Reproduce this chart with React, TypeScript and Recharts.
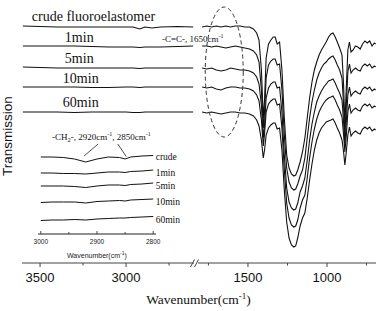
import { LineChart, Line, XAxis, YAxis, ReferenceDot, ReferenceLine } from "recharts"

const SERIF = "'Liberation Serif', 'Times New Roman', serif"
const SANS = "'Liberation Sans', Arial, sans-serif"

// transmission in arbitrary units (spectra offset for clarity)
// left part of the broken axis
const wnLeft = [3600, 3500, 3400, 3300, 3200, 3100, 3000, 2960, 2920, 2890, 2850, 2800, 2700, 2610]
const crudeLeft = [237, 236.5, 236, 236, 236, 236, 236, 236, 234, 236, 235, 236, 236.5, 236]
const min1Left = [217, 217, 217, 217, 216.5, 216, 216, 216, 215.5, 216, 216, 216, 216.5, 217]
const min5Left = [196, 195.5, 195, 195, 195, 195, 195, 195, 194.5, 195, 195, 195, 195, 195]
const min10Left = [176, 176, 176, 176, 175.5, 175.5, 176, 176, 175.5, 176, 176, 176, 176, 176]
const min60Left = [151, 151, 151, 150.5, 151, 151, 151, 150.5, 150.5, 151, 151, 151, 151, 151]

// right part of the broken axis
const wnRight = [
  1790, 1760, 1730, 1700, 1670, 1640, 1610, 1580, 1550, 1520,
  1490, 1465, 1445, 1430, 1415, 1403, 1395, 1385, 1370, 1355,
  1340, 1328, 1315, 1300, 1285, 1270, 1255, 1240, 1225, 1210,
  1198, 1185, 1170, 1155, 1140, 1125, 1110, 1095, 1080, 1065,
  1050, 1035, 1020, 1005, 990, 975, 962, 948, 935, 920,
  905, 895, 887, 878, 868, 858, 848, 835, 820, 805,
  790, 775, 760, 745, 730, 715, 700, 692,
]
const crudeRight = [
  236, 237, 236, 237, 236, 237, 236, 237, 237, 236,
  236, 234, 230, 223, 193, 145, 163, 205, 219, 223,
  226, 226, 219, 221, 193, 145, 108, 95, 89, 87,
  88, 93, 101, 111, 125, 145, 165, 181, 193, 201,
  208, 213, 217, 221, 226, 229, 230, 226, 221, 215,
  208, 178, 138, 175, 213, 221, 211, 213, 217, 216,
  214, 219, 222, 220, 222, 217, 220, 219,
]
const min1Right = [
  217, 217, 216, 217, 216, 215, 216, 217, 216, 215,
  214, 212, 208, 201, 173, 135, 151, 185, 198, 202,
  204, 204, 198, 199, 173, 128, 95, 81, 75, 73,
  74, 79, 87, 93, 105, 125, 145, 161, 173, 183,
  190, 195, 199, 201, 204, 206, 207, 203, 198, 193,
  185, 158, 128, 158, 191, 199, 190, 193, 195, 193,
  192, 197, 199, 197, 199, 195, 197, 196,
]
const min5Right = [
  195, 194, 195, 193, 192, 193, 195, 194, 193, 193,
  192, 190, 186, 179, 158, 125, 138, 165, 175, 179,
  181, 181, 175, 176, 151, 108, 75, 61, 55, 53,
  54, 60, 71, 77, 85, 103, 123, 139, 151, 161,
  167, 172, 176, 179, 182, 183, 184, 180, 175, 170,
  163, 141, 118, 141, 168, 176, 167, 170, 172, 170,
  169, 174, 176, 174, 176, 172, 174, 173,
]
const min10Right = [
  176, 175, 176, 174, 173, 175, 176, 176, 175, 175,
  174, 172, 168, 162, 143, 117, 129, 151, 159, 162,
  164, 164, 158, 159, 135, 93, 60, 45, 38, 36,
  37, 43, 55, 63, 68, 85, 105, 121, 134, 144,
  151, 156, 160, 163, 165, 166, 167, 163, 158, 153,
  146, 128, 111, 127, 151, 159, 150, 153, 155, 153,
  152, 157, 159, 157, 159, 155, 157, 156,
]
const min60Right = [
  151, 150, 151, 150, 149, 150, 151, 151, 150, 150,
  149, 147, 143, 137, 123, 105, 113, 128, 135, 138,
  140, 140, 134, 135, 113, 73, 41, 25, 18, 16,
  17, 25, 37, 45, 50, 65, 83, 99, 113, 123,
  130, 135, 138, 141, 142, 143, 144, 140, 135, 130,
  123, 111, 98, 111, 128, 136, 127, 130, 132, 130,
  129, 134, 136, 134, 136, 132, 134, 133,
]

// inset: -CH2- stretching region
const wnInset = [3000, 2980, 2960, 2940, 2920, 2900, 2880, 2860, 2850, 2840, 2820, 2800]
const crudeInset = [77, 77, 76.5, 75, 72, 75, 77, 76.5, 75, 77, 78, 78.5]
const min1Inset = [61, 61, 60.5, 60.5, 60, 61, 62, 62, 61.5, 62.5, 63, 64]
const min5Inset = [48, 48, 48, 47.5, 46.5, 48, 49, 49, 48.5, 49.5, 50, 51]
const min10Inset = [31.5, 32, 32, 32, 31, 32.5, 33, 33.5, 33, 34, 34.5, 35]
const min60Inset = [13.5, 14, 14, 14.5, 14, 15, 15.5, 16, 16, 16.5, 17, 17.5]

const mainTicksLeft = [3500, 3250, 3000, 2750]
const mainTicksRight = [1750, 1500, 1250, 1000, 750]
const mainMajor = [3500, 3000, 1500, 1000]
const insetTicks = [3000, 2950, 2900, 2850, 2800]
const insetMajor = [3000, 2900, 2800]

const keys = ["crude", "m1", "m5", "m10", "m60"]
const mainNames: Record<string, string> = {
  crude: "crude fluoroelastomer",
  m1: "1min",
  m5: "5min",
  m10: "10min",
  m60: "60min",
}
const insetNames: Record<string, string> = {
  crude: "crude",
  m1: "1min",
  m5: "5min",
  m10: "10min",
  m60: "60min",
}
const mainLabelPos: Record<string, { dx: number; dy: number }> = {
  crude: { dx: 9, dy: -5 },
  m1: { dx: 42, dy: -4 },
  m5: { dx: 42, dy: -4 },
  m10: { dx: 40, dy: -4 },
  m60: { dx: 40, dy: -5 },
}

const leftData = wnLeft.map((w, i) => ({
  w, crude: crudeLeft[i], m1: min1Left[i], m5: min5Left[i], m10: min10Left[i], m60: min60Left[i],
}))
const rightData = wnRight.map((w, i) => ({
  w, crude: crudeRight[i], m1: min1Right[i], m5: min5Right[i], m10: min10Right[i], m60: min60Right[i],
}))
const insetData = wnInset.map((w, i) => ({
  w, crude: crudeInset[i], m1: min1Inset[i], m5: min5Inset[i], m10: min10Inset[i], m60: min60Inset[i],
}))

const LINE = "#111"
const AXIS = "#444"

function MainTick(props: any) {
  const { x, y, payload } = props
  const major = mainMajor.includes(payload.value)
  return (
    <g>
      <line x1={x} x2={x} y1={y} y2={y + (major ? 4 : 2.5)} stroke={AXIS} strokeWidth={1} />
      {major && (
        <text x={x} y={y + 19} textAnchor="middle" fontSize={13} fontFamily={SANS} fill="#111">
          {payload.value}
        </text>
      )}
    </g>
  )
}

function InsetTick(props: any) {
  const { x, y, payload } = props
  const major = insetMajor.includes(payload.value)
  return (
    <g>
      <line x1={x} x2={x} y1={y} y2={y - (major ? 3 : 2)} stroke="#222" strokeWidth={0.8} />
      {major && (
        <text x={x} y={y + 10} textAnchor="middle" fontSize={6.5} fontFamily={SANS} fill="#222">
          {payload.value}
        </text>
      )}
    </g>
  )
}

function EllipseMark(props: any) {
  const { cx, cy } = props
  return <ellipse cx={cx} cy={cy} rx={19} ry={65} fill="none" stroke="#333" strokeWidth={1} strokeDasharray="4 3" />
}

export default function App() {
  return (
    <div style={{ position: "absolute", left: 0, top: 0, width: 376, height: 311, background: "#fff", overflow: "hidden" }}>
      <div style={{ position: "absolute", left: 0, top: 0 }}>
        <LineChart width={194} height={311} data={leftData} margin={{ top: 0, right: 0, bottom: 0, left: 22 }}>
          <XAxis
            dataKey="w"
            type="number"
            domain={[2605, 3605]}
            reversed
            allowDataOverflow
            ticks={mainTicksLeft}
            interval={0}
            tickSize={0}
            tickMargin={0}
            tick={MainTick}
            height={48}
            axisLine={{ stroke: AXIS, strokeWidth: 1.2 }}
          />
          <YAxis domain={[0, 263]} width={0} tick={false} tickLine={false} axisLine={{ stroke: "#555", strokeWidth: 1.5 }} />
          {keys.map((k) => (
            <Line
              key={k}
              dataKey={k}
              type="linear"
              stroke={LINE}
              strokeWidth={1.1}
              dot={false}
              activeDot={false}
              isAnimationActive={false}
              label={(p: any) =>
                p.index === 0 ? (
                  <text
                    key={k + "-lbl"}
                    x={p.x + mainLabelPos[k].dx}
                    y={p.y + mainLabelPos[k].dy}
                    fontSize={14}
                    fontFamily={SERIF}
                    fill="#111"
                  >
                    {mainNames[k]}
                  </text>
                ) : null
              }
            />
          ))}
        </LineChart>
      </div>

      <div style={{ position: "absolute", left: 198, top: 0 }}>
        <LineChart width={178} height={311} data={rightData} margin={{ top: 0, right: 0, bottom: 0, left: 0 }}>
          <XAxis
            dataKey="w"
            type="number"
            domain={[690, 1816]}
            reversed
            allowDataOverflow
            ticks={mainTicksRight}
            interval={0}
            tickSize={0}
            tickMargin={0}
            tick={MainTick}
            height={48}
            axisLine={{ stroke: AXIS, strokeWidth: 1.2 }}
          />
          <YAxis hide domain={[0, 263]} />
          <ReferenceDot x={1650} y={191} shape={EllipseMark} />
          {keys.map((k) => (
            <Line
              key={k}
              dataKey={k}
              type="linear"
              stroke={LINE}
              strokeWidth={1.1}
              dot={false}
              activeDot={false}
              isAnimationActive={false}
            />
          ))}
        </LineChart>
      </div>

      <div style={{ position: "absolute", left: 0, top: 0 }}>
        <LineChart width={200} height={262} data={insetData} margin={{ top: 143, right: 44, bottom: 0, left: 38 }}>
          <XAxis
            dataKey="w"
            type="number"
            domain={[2795, 3005]}
            reversed
            allowDataOverflow
            ticks={insetTicks}
            interval={0}
            tickSize={0}
            tickMargin={0}
            tick={InsetTick}
            height={28}
            axisLine={{ stroke: "#222", strokeWidth: 1 }}
          />
          <YAxis domain={[0, 91]} width={0} tick={false} tickLine={false} axisLine={{ stroke: "#222", strokeWidth: 1 }} />
          <ReferenceLine segment={[{ x: 2898, y: 90 }, { x: 2923, y: 78 }]} stroke="#222" strokeWidth={0.8} />
          <ReferenceLine segment={[{ x: 2863, y: 90 }, { x: 2848, y: 77.5 }]} stroke="#222" strokeWidth={0.8} />
          {keys.map((k, idx) => (
            <Line
              key={k}
              dataKey={k}
              type="linear"
              stroke={LINE}
              strokeWidth={1}
              dot={false}
              activeDot={false}
              isAnimationActive={false}
              label={(p: any) =>
                p.index === wnInset.length - 1 ? (
                  <text key={k + "-ilbl"} x={p.x + 2.5} y={p.y + (idx === 0 ? 4.5 : 6)} fontSize={9.5} fontFamily={SERIF} fill="#111">
                    {insetNames[k]}
                  </text>
                ) : null
              }
            />
          ))}
        </LineChart>
      </div>

      <svg width={376} height={311} style={{ position: "absolute", left: 0, top: 0, pointerEvents: "none" }}>
        <text
          x={7}
          y={136}
          transform="rotate(-90, 7, 136)"
          textAnchor="middle"
          dominantBaseline="central"
          fontSize={13.5}
          fontFamily={SANS}
          fill="#111"
        >
          Transmission
        </text>
        <text x={162} y={42} fontSize={9} fontFamily={SERIF} fill="#111">
          -C=C-, 1650cm<tspan fontSize={6} dy={-4}>-1</tspan>
        </text>
        <text x={52} y={140} fontSize={9} fontFamily={SERIF} fill="#111">
          -CH<tspan fontSize={6.5} dy={2}>2</tspan>
          <tspan dy={-2}>-, 2920cm</tspan>
          <tspan fontSize={6} dy={-4}>-1</tspan>
          <tspan dy={4}>, 2850cm</tspan>
          <tspan fontSize={6} dy={-4}>-1</tspan>
        </text>
        <text x={67} y={258} fontSize={7} fontFamily={SANS} fill="#222">
          Wavenumber(cm<tspan fontSize={5} dy={-3}>-1</tspan>
          <tspan dy={3}>)</tspan>
        </text>
        <line x1={190.5} y1={267} x2={194.5} y2={259.5} stroke={AXIS} strokeWidth={1} />
        <line x1={194.5} y1={267} x2={198.5} y2={259.5} stroke={AXIS} strokeWidth={1} />
        <text x={198.5} y={304} textAnchor="middle" fontSize={13.5} fontFamily={SERIF} fill="#111">
          Wavenumber(cm<tspan fontSize={9} dy={-5}>-1</tspan>
          <tspan dy={5}>)</tspan>
        </text>
      </svg>
    </div>
  )
}
